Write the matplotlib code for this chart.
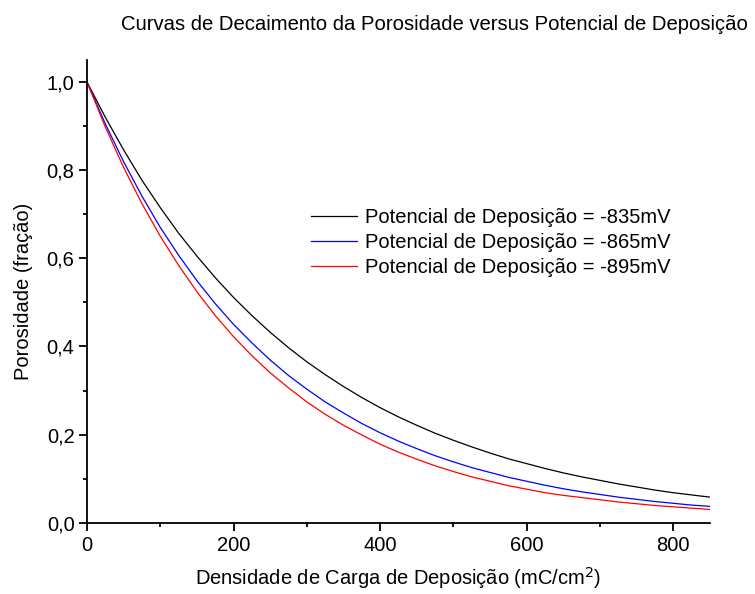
import matplotlib
matplotlib.use("Agg")
import matplotlib.pyplot as plt
from matplotlib.ticker import MultipleLocator, FuncFormatter

plt.rcParams['font.family'] = ['Liberation Sans', 'DejaVu Sans']

# carga de deposição (mC/cm2)
carga = [0, 25, 50, 75, 100, 125, 150, 175, 200, 225, 250, 275, 300, 325,
         350, 375, 400, 425, 450, 475, 500, 525, 550, 575, 600, 625, 650,
         675, 700, 725, 750, 775, 800, 825, 850]

# porosidade
poro_835 = [1.000, 0.920, 0.846, 0.777, 0.715, 0.657, 0.605, 0.556, 0.511,
            0.470, 0.432, 0.397, 0.365, 0.336, 0.309, 0.284, 0.261, 0.240,
            0.221, 0.203, 0.187, 0.172, 0.158, 0.145, 0.134, 0.123, 0.113,
            0.104, 0.096, 0.088, 0.081, 0.074, 0.068, 0.063, 0.058]
poro_865 = [1.000, 0.905, 0.819, 0.741, 0.670, 0.607, 0.549, 0.497, 0.450,
            0.408, 0.369, 0.334, 0.303, 0.274, 0.249, 0.225, 0.204, 0.185,
            0.168, 0.152, 0.138, 0.125, 0.114, 0.103, 0.094, 0.085, 0.077,
            0.070, 0.064, 0.058, 0.053, 0.048, 0.044, 0.040, 0.037]
poro_895 = [1.000, 0.898, 0.806, 0.724, 0.650, 0.584, 0.524, 0.470, 0.422,
            0.379, 0.340, 0.306, 0.274, 0.246, 0.221, 0.199, 0.178, 0.160,
            0.144, 0.129, 0.116, 0.104, 0.094, 0.084, 0.076, 0.068, 0.062,
            0.057, 0.052, 0.047, 0.043, 0.039, 0.036, 0.033, 0.030]

series = [
    (poro_835, "black", "Potencial de Deposição = -835mV"),
    (poro_865, "blue", "Potencial de Deposição = -865mV"),
    (poro_895, "red", "Potencial de Deposição = -895mV"),
]

fig = plt.figure(figsize=(7.55, 5.94), dpi=100)
ax = fig.add_axes([87 / 755, 71.3 / 594, 623 / 755, 462.7 / 594])

for y, cor, rotulo in series:
    ax.plot(carga, y, color=cor, lw=0.9, label=rotulo)

ax.set_xlim(0, 850)
ax.set_ylim(0, 1.05)

ax.spines['top'].set_visible(False)
ax.spines['right'].set_visible(False)
ax.spines['left'].set_linewidth(1.3)
ax.spines['bottom'].set_linewidth(1.3)

ax.xaxis.set_major_locator(MultipleLocator(200))
ax.xaxis.set_minor_locator(MultipleLocator(100))
ax.yaxis.set_major_locator(MultipleLocator(0.2))
ax.yaxis.set_minor_locator(MultipleLocator(0.1))
ax.yaxis.set_major_formatter(FuncFormatter(lambda v, p: f"{v:.1f}".replace('.', ',')))

ax.tick_params(which='major', direction='out', length=6, width=1.3, labelsize=14.5)
ax.tick_params(axis='x', which='major', pad=3.5)
ax.tick_params(axis='y', which='major', pad=3)
ax.tick_params(which='minor', direction='out', length=3, width=1.3)

ax.set_xlabel("Densidade de Carga de Deposição (mC/cm$^2$)", fontsize=14.5, labelpad=7)
ax.set_ylabel("Porosidade (fração)", fontsize=14.5, labelpad=10)

fig.text(434 / 755, 1 - 25 / 594, "Curvas de Decaimento da Porosidade versus Potencial de Deposição",
         ha='center', va='center', fontsize=14.6)

ax.legend(loc='upper left', bbox_to_anchor=(311 / 755, 1 - 208 / 594),
          bbox_transform=fig.transFigure, frameon=False, fontsize=14.5,
          handlelength=2.3, handletextpad=0.4, labelspacing=0.3, borderpad=0,
          borderaxespad=0)

fig.savefig("out.png", dpi=100)
